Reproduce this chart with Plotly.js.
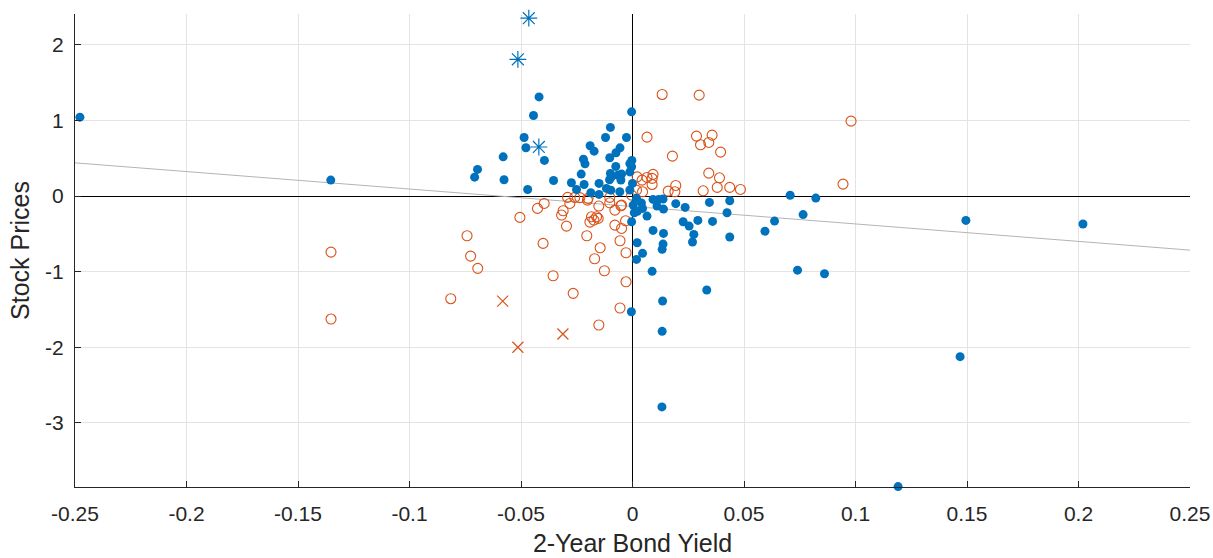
<!DOCTYPE html>
<html>
<head>
<meta charset="utf-8">
<script src="https://cdn.plot.ly/plotly-3.0.1.min.js"></script>
<style>html,body{margin:0;padding:0;background:#fff;}#chart{width:1213px;height:558px;}</style>
</head>
<body>
<div id="chart"></div>
<script>
// Blue filled circles
const blueX = [-0.2478,-0.1353,0.202,0.1495,0.1469,0.1191,0.0822,0.0765,0.0861,0.074,0.0707,0.0594,0.0637,0.0333,0.0135,-0.0005,0.0133,0.0132,0.0436,0.0345,0.0424,0.0436,0.0359,0.0293,0.0227,0.0254,0.0275,0.0269,0.0236,0.0194,0.0139,0.0137,0.0133,0.0092,0.0088,0.0045,0.0018,0.0021,0.0139,0.0117,0.0092,0.011,0.0065,0.0045,0.0018,0.0003,-0.0004,0.0137,
-0.0419,-0.0444,-0.0004,-0.0486,-0.0478,-0.0395,-0.058,-0.0695,-0.0708,-0.0576,-0.047,-0.0354,-0.0099,-0.0121,-0.0027,-0.019,-0.0172,-0.0056,-0.0074,-0.0102,-0.022,-0.0213,-0.0003,-0.0004,-0.023,-0.0075,-0.0099,-0.0049,-0.0103,-0.0052,-0.0274,-0.015,-0.0251,-0.0217,-0.0187,-0.015,-0.0097,-0.0057,0.0,-0.0012,-0.0012,-0.0117,-0.0065,-0.0094,-0.0012,0.0022,0.0040,0.0008];
const blueY = [1.045,0.212,-0.37,-0.322,-2.125,-3.845,-0.026,-0.245,-1.028,-0.98,0.011,-0.465,-0.331,-1.243,-1.389,-1.53,-1.79,-2.79,-0.062,-0.084,-0.22,-0.542,-0.335,-0.322,-0.34,-0.397,-0.507,-0.608,-0.15,-0.1,-0.494,-0.635,-0.705,-0.454,-0.996,-0.758,-0.838,-0.617,-0.172,-0.044,-0.044,-0.132,-0.265,-0.163,-0.03,-0.119,-0.34,-0.04,
1.313,1.067,1.115,0.776,0.64,0.472,0.52,0.353,0.251,0.216,0.088,0.207,0.909,0.776,0.776,0.666,0.595,0.639,0.573,0.507,0.489,0.427,0.472,0.388,0.291,0.393,0.3,0.291,0.216,0.212,0.176,0.168,0.088,0.154,0.044,0.022,0.079,0.057,0.168,0.08,0.32,0.102,0.278,0.255,0.43,-0.2,-0.09,-0.22];

// Orange open circles
const orangeX = [-0.1352,-0.1352,-0.0815,-0.0742,-0.0726,-0.0694,-0.0505,-0.0426,-0.0396,-0.0401,-0.0356,-0.0311,-0.0318,-0.0296,-0.0291,-0.0259,-0.0281,-0.0266,-0.0236,-0.0202,-0.0151,-0.0102,-0.0102,-0.0079,-0.0052,-0.0184,-0.0161,-0.0173,-0.0191,-0.0154,-0.0079,-0.0049,-0.0031,-0.0205,-0.0056,-0.0145,-0.0029,-0.017,-0.0126,-0.0029,-0.0056,-0.0151,-0.0049,-0.0199,
0.0133,0.0299,0.0065,0.0287,0.0357,0.0305,0.0342,0.0395,0.0179,0.0342,0.039,0.038,0.0436,0.0484,0.0317,0.0194,0.016,0.019,0.0092,0.0065,0.0088,0.0043,0.0088,0.0021,0.0045,0.0018,-0.0004,0.098,0.0944];
const orangeY = [-0.741,-1.627,-1.358,-0.525,-0.794,-0.956,-0.282,-0.163,-0.097,-0.626,-1.054,-0.194,-0.251,-0.397,-0.017,-0.017,-0.097,-1.287,-0.02,-0.053,-0.132,-0.017,-0.089,-0.185,-0.128,-0.274,-0.274,-0.317,-0.344,-0.295,-0.384,-0.428,-0.326,-0.525,-0.591,-0.684,-0.75,-0.829,-0.988,-1.134,-1.481,-1.706,-0.119,-0.03,
1.345,1.336,0.78,0.794,0.807,0.679,0.71,0.582,0.529,0.304,0.242,0.115,0.115,0.088,0.07,0.141,0.066,0.057,0.287,0.247,0.234,0.212,0.154,0.255,0.057,0.079,0.013,0.992,0.159];

// Blue asterisks
const starX = [-0.0465,-0.0514,-0.042];
const starY = [2.355,1.81,0.65];

// Orange crosses
const crossX = [-0.0582,-0.0514,-0.0312];
const crossY = [-1.39,-2.0,-1.825];

// Fitted line
const fitX = [-0.25,0.25];
const fitY = [0.44,-0.715];

const xTicks = [-0.25,-0.2,-0.15,-0.1,-0.05,0,0.05,0.1,0.15,0.2,0.25];
const xTickText = ['-0.25','-0.2','-0.15','-0.1','-0.05','0','0.05','0.1','0.15','0.2','0.25'];
const yTicks = [-3,-2,-1,0,1,2];
const yTickText = ['-3','-2','-1','0','1','2'];

const blue = '#0072BD', orange = '#D95319';

const traces = [
  {x: fitX, y: fitY, mode: 'lines', line: {color: '#b4b4b4', width: 1}, hoverinfo: 'skip'},
  {x: orangeX, y: orangeY, mode: 'markers', cliponaxis: false, marker: {symbol: 'circle-open', size: 10, color: orange, line: {width: 1.1, color: orange}}},
  {x: blueX, y: blueY, mode: 'markers', cliponaxis: false, marker: {symbol: 'circle', size: 9, color: blue}},
  {x: starX, y: starY, mode: 'markers', cliponaxis: false, marker: {symbol: 'asterisk-open', size: 14, color: blue, line: {width: 1.2, color: blue}}},
  {x: crossX, y: crossY, mode: 'markers', cliponaxis: false, marker: {symbol: 'x-thin-open', size: 11, color: orange, line: {width: 1.2, color: orange}}}
];

const fontFam = '"Liberation Sans", Arial, Helvetica, sans-serif';
const layout = {
  width: 1213, height: 558,
  margin: {l: 75, r: 23, t: 14, b: 71},
  paper_bgcolor: '#ffffff', plot_bgcolor: '#ffffff',
  showlegend: false,
  font: {family: fontFam, color: '#262626', size: 21},
  xaxis: {
    range: [-0.25, 0.25], tickvals: xTicks, ticktext: xTickText,
    showgrid: true, gridcolor: '#e3e3e3', gridwidth: 1,
    zeroline: true, zerolinecolor: '#000000', zerolinewidth: 1,
    showline: true, linecolor: '#262626', linewidth: 1,
    ticks: 'inside', ticklen: 6, tickcolor: '#262626',
    ticklabelstandoff: 8,
    tickfont: {family: fontFam, size: 21, color: '#262626'},
    title: {text: '2-Year Bond Yield', font: {family: fontFam, size: 25, color: '#262626'}, standoff: 10}
  },
  yaxis: {
    range: [-3.85, 2.41], tickvals: yTicks, ticktext: yTickText,
    showgrid: true, gridcolor: '#e3e3e3', gridwidth: 1,
    zeroline: true, zerolinecolor: '#000000', zerolinewidth: 1,
    showline: true, linecolor: '#262626', linewidth: 1,
    ticks: 'inside', ticklen: 6, tickcolor: '#262626',
    ticklabelstandoff: 6,
    tickfont: {family: fontFam, size: 21, color: '#262626'},
    title: {text: 'Stock Prices', font: {family: fontFam, size: 25, color: '#262626'}, standoff: 8}
  }
};

Plotly.newPlot('chart', traces, layout, {staticPlot: true, displayModeBar: false});
</script>
</body>
</html>
